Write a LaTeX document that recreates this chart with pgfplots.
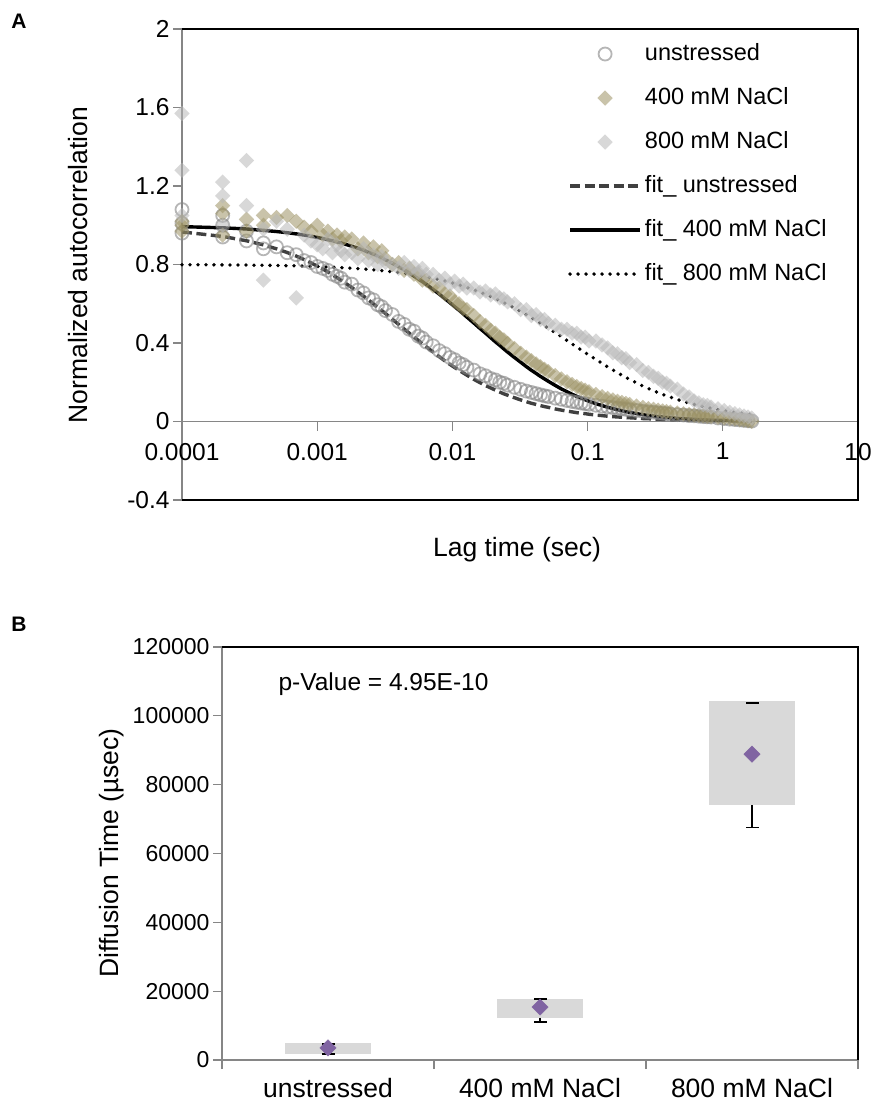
\documentclass[border=0pt]{standalone}
\usepackage{fontspec}
\setmainfont{Liberation Sans}
\usepackage{pgfplots}
\usepackage{pgfplotstable}
\pgfplotsset{compat=1.18}
\definecolor{axisgray}{HTML}{868686}
\definecolor{circgray}{HTML}{868686}
\definecolor{olivec}{HTML}{9C9264}
\definecolor{lgray}{HTML}{B8B8B8}
\definecolor{dashgray}{HTML}{404040}
\definecolor{boxgray}{HTML}{D9D9D9}
\definecolor{purp}{HTML}{8064A2}
\newcommand{\tickfont}{\fontsize{24.5}{28}\selectfont}
\newcommand{\btickfont}{\fontsize{23}{27}\selectfont}
\newcommand{\labfont}{\fontsize{26.5}{30}\selectfont}
\newcommand{\legfont}{\fontsize{23.5}{27}\selectfont}
\pgfplotsset{
  lineleg/.style={legend image code/.code={\draw[##1] (0pt,0pt) -- (70pt,0pt);}},
  markleg/.style={legend image code/.code={\draw[mark repeat=2,mark phase=2,##1] plot coordinates {(0pt,0pt)(35pt,0pt)(70pt,0pt)};}},
}

\pgfplotstableread{
t g0 g4 g8 f0 f4 f8
0.0001 1.08 1.02 1.05 0.966 0.993 0.799
0.0002 1.00 1.06 1.15 0.943 0.987 0.798
0.0003 0.97 1.03 1.33 0.921 0.981 0.797
0.0004 0.91 1.00 0.72 0.900 0.974 0.796
0.0005 0.89 1.04 1.02 0.880 0.968 0.795
0.0006 0.86 1.05 0.98 0.861 0.962 0.794
0.0007 0.85 1.02 0.63 0.843 0.956 0.793
0.0008 0.82 0.99 0.95 0.825 0.950 0.792
0.0009 0.81 0.97 0.92 0.808 0.944 0.791
0.0010 0.79 1.00 0.90 0.792 0.938 0.790
0.0011 0.78 0.95 0.88 0.777 0.932 0.788
0.0012 0.77 0.97 0.93 0.762 0.926 0.787
0.0013 0.75 0.93 0.86 0.747 0.921 0.786
0.0014 0.74 0.95 0.90 0.733 0.915 0.785
0.0015 0.73 0.92 0.87 0.720 0.910 0.784
0.0016 0.71 0.94 0.85 0.707 0.904 0.783
0.0018 0.70 0.93 0.86 0.683 0.893 0.781
0.0020 0.67 0.88 0.83 0.660 0.883 0.779
0.0022 0.655 0.91 0.88 0.639 0.873 0.777
0.0024 0.63 0.86 0.82 0.619 0.862 0.775
0.0026 0.62 0.89 0.85 0.600 0.853 0.773
0.0028 0.595 0.84 0.80 0.582 0.843 0.771
0.0030 0.585 0.87 0.84 0.566 0.834 0.769
0.0032 0.565 0.83 0.81 0.550 0.824 0.767
0.0036 0.545 0.80 0.80 0.521 0.806 0.763
0.0040 0.51 0.81 0.78 0.495 0.789 0.760
0.0044 0.495 0.77 0.81 0.471 0.773 0.756
0.0048 0.47 0.78 0.77 0.450 0.757 0.752
0.0052 0.46 0.75 0.79 0.430 0.741 0.748
0.0056 0.435 0.75 0.76 0.413 0.727 0.744
0.0060 0.425 0.72 0.78 0.396 0.713 0.741
0.0064 0.405 0.72 0.75 0.381 0.699 0.737
0.0072 0.386 0.69 0.75 0.354 0.673 0.730
0.0080 0.361 0.68 0.72 0.330 0.649 0.723
0.0088 0.346 0.65 0.73 0.309 0.626 0.716
0.0096 0.326 0.64 0.70 0.291 0.605 0.709
0.0104 0.315 0.61 0.715 0.275 0.585 0.703
0.0112 0.298 0.60 0.69 0.261 0.567 0.696
0.0120 0.290 0.575 0.70 0.248 0.549 0.690
0.0128 0.276 0.57 0.68 0.236 0.532 0.683
0.0144 0.262 0.54 0.68 0.215 0.502 0.671
0.0160 0.243 0.51 0.66 0.198 0.474 0.659
0.0176 0.233 0.49 0.665 0.183 0.450 0.648
0.0192 0.219 0.465 0.645 0.171 0.427 0.637
0.0208 0.212 0.45 0.65 0.160 0.406 0.626
0.0224 0.200 0.428 0.63 0.150 0.388 0.616
0.0240 0.195 0.416 0.625 0.141 0.370 0.606
0.0256 0.185 0.398 0.61 0.134 0.354 0.596
0.0288 0.174 0.372 0.60 0.121 0.326 0.578
0.0320 0.164 0.348 0.57 0.110 0.302 0.561
0.0352 0.155 0.328 0.57 0.101 0.280 0.545
0.0384 0.148 0.310 0.54 0.093 0.261 0.529
0.0416 0.142 0.294 0.545 0.087 0.245 0.515
0.0448 0.136 0.279 0.52 0.081 0.230 0.501
0.0480 0.131 0.266 0.52 0.076 0.217 0.488
0.0512 0.127 0.255 0.50 0.072 0.205 0.475
0.0576 0.119 0.234 0.49 0.064 0.184 0.453
0.0640 0.113 0.217 0.47 0.058 0.166 0.432
0.0704 0.107 0.202 0.47 0.053 0.152 0.413
0.0768 0.102 0.189 0.45 0.049 0.139 0.395
0.0832 0.098 0.178 0.45 0.045 0.128 0.379
0.0896 0.094 0.168 0.43 0.042 0.119 0.365
0.0960 0.091 0.160 0.43 0.040 0.111 0.351
0.1024 0.088 0.152 0.41 0.037 0.103 0.338
0.1152 0.083 0.138 0.41 0.033 0.091 0.316
0.1280 0.078 0.127 0.39 0.030 0.081 0.296
0.1408 0.074 0.118 0.375 0.027 0.073 0.278
0.1536 0.071 0.110 0.35 0.025 0.066 0.263
0.1664 0.068 0.103 0.345 0.023 0.060 0.249
0.1792 0.065 0.097 0.325 0.022 0.055 0.236
0.1920 0.062 0.092 0.32 0.020 0.050 0.225
0.2048 0.060 0.087 0.30 0.019 0.047 0.214
0.2304 0.056 0.079 0.29 0.017 0.040 0.197
0.2560 0.052 0.072 0.26 0.015 0.035 0.181
0.2816 0.049 0.066 0.25 0.014 0.031 0.168
0.3072 0.047 0.062 0.23 0.013 0.028 0.157
0.3328 0.044 0.058 0.22 0.012 0.025 0.147
0.3584 0.042 0.054 0.20 0.011 0.023 0.138
0.3840 0.040 0.051 0.195 0.010 0.021 0.131
0.4096 0.038 0.048 0.18 0.010 0.019 0.124
0.4608 0.035 0.043 0.165 0.009 0.016 0.112
0.5120 0.033 0.039 0.14 0.008 0.014 0.102
0.5632 0.030 0.036 0.125 0.007 0.013 0.094
0.6144 0.029 0.033 0.105 0.006 0.011 0.087
0.6656 0.027 0.031 0.095 0.006 0.010 0.081
0.7168 0.025 0.029 0.085 0.006 0.009 0.076
0.7680 0.024 0.027 0.082 0.005 0.008 0.071
0.8192 0.023 0.026 0.074 0.005 0.007 0.067
0.9216 0.018 0.022 0.065 0.004 0.006 0.060
1.0240 0.015 0.019 0.056 0.004 0.005 0.055
1.1264 0.012 0.016 0.047 0.004 0.005 0.050
1.2288 0.010 0.013 0.040 0.003 0.004 0.046
1.3312 0.008 0.010 0.034 0.003 0.004 0.043
1.4336 0.006 0.007 0.028 0.003 0.003 0.040
1.5360 0.004 0.004 0.023 0.003 0.003 0.037
1.6384 0.002 0.001 0.018 0.002 0.003 0.035
}\fcsdata

\pgfplotstableread{
t u a b
0.0001 1.01 0.97 1.57
0.0001 0.96 1.00 1.28
0.0002 1.05 0.95 1.22
0.0002 0.94 1.10 1.00
0.0003 0.92 0.97 1.10
0.0004 0.88 1.05 0.98
}\early

\begin{document}
\begin{tikzpicture}[x=1pt,y=1pt]
\useasboundingbox (0,0) rectangle (873,-1105);
\node[font=\fontsize{21}{24}\selectfont\bfseries] at (19,-21) {A};
\node[font=\fontsize{21}{24}\selectfont\bfseries] at (19,-624) {B};

\begin{axis}[
  at={(182pt,-500pt)}, anchor=south west, scale only axis,
  width=676pt, height=471pt,
  xmode=log, xmin=1e-4, xmax=10, ymin=-0.4, ymax=2,
  axis x line*=middle, axis y line*=left,
  hide obscured x ticks=false, hide obscured y ticks=false,
  axis line style={axisgray, line width=1.3pt},
  xtick={0.0001,0.001,0.01,0.1,1,10},
  xticklabels={0.0001,0.001,0.01,0.1,1,10},
  ytick={-0.4,0,0.4,0.8,1.2,1.6,2},
  yticklabels={-0.4,0,0.4,0.8,1.2,1.6,2},
  xminorticks=false, yminorticks=false,
  tick align=outside, major tick length=9pt,
  tick style={axisgray, line width=1.3pt},
  tick label style={font=\tickfont, black},
  xticklabel style={yshift=-9pt},
  clip=false,
  legend cell align=left,
  legend style={at={(0.571,0.977)}, anchor=north west, draw=none, fill=none,
    font=\legfont, row sep=16pt, inner sep=0pt,
    nodes={inner sep=3pt, text height=17pt, text depth=5pt}},
]
\addplot[only marks, color=circgray, mark=o, mark size=6.5pt,
  mark options={draw=circgray, line width=1.8pt, draw opacity=0.6}, markleg]
  table[x=t, y=g0] {\fcsdata};
\addlegendentry{unstressed}
\addplot[only marks, color=circgray, mark=o, mark size=6.5pt, forget plot,
  mark options={draw=circgray, line width=1.8pt, draw opacity=0.6}]
  table[x=t, y=u] {\early};
\addplot[only marks, color=olivec, mark=square*, mark size=5.4pt,
  mark options={rotate=45, fill=olivec, draw opacity=0, fill opacity=0.55}, markleg]
  table[x=t, y=g4] {\fcsdata};
\addlegendentry{400 mM NaCl}
\addplot[only marks, color=olivec, mark=square*, mark size=5.4pt, forget plot,
  mark options={rotate=45, fill=olivec, draw opacity=0, fill opacity=0.55}]
  table[x=t, y=a] {\early};
\addplot[only marks, color=lgray, mark=square*, mark size=5.4pt,
  mark options={rotate=45, fill=lgray, draw opacity=0, fill opacity=0.55}, markleg]
  table[x=t, y=g8] {\fcsdata};
\addlegendentry{800 mM NaCl}
\addplot[only marks, color=lgray, mark=square*, mark size=5.4pt, forget plot,
  mark options={rotate=45, fill=lgray, draw opacity=0, fill opacity=0.55}]
  table[x=t, y=b] {\early};
\addplot[dashgray, line width=3.4pt, dash pattern=on 10pt off 4.5pt, lineleg]
  table[x=t, y=f0] {\fcsdata};
\addlegendentry{fit\_ unstressed}
\addplot[black, line width=3.4pt, lineleg]
  table[x=t, y=f4] {\fcsdata};
\addlegendentry{fit\_ 400 mM NaCl}
\addplot[black, line width=3.8pt, dash pattern=on 0pt off 8pt, line cap=round, lineleg]
  table[x=t, y=f8] {\fcsdata};
\addlegendentry{fit\_ 800 mM NaCl}
\draw[black, line width=1.5pt] (rel axis cs:0,1) -- (rel axis cs:1,1) -- (rel axis cs:1,0) -- (rel axis cs:0,0);
\end{axis}
\node[font=\labfont, rotate=90] at (78,-265) {Normalized autocorrelation};
\node[font=\labfont] at (517,-550) {Lag time (sec)};

\begin{axis}[
  at={(222pt,-1060pt)}, anchor=south west, scale only axis,
  width=636pt, height=413pt,
  xmin=0.5, xmax=3.5, ymin=0, ymax=120000,
  axis x line*=bottom, axis y line*=left,
  axis line style={axisgray, line width=1.3pt},
  xtick={0.5,1.5,2.5,3.5}, xticklabels={,,,},
  extra x ticks={1,2,3},
  extra x tick labels={unstressed,400 mM NaCl,800 mM NaCl},
  extra x tick style={grid=none, tick style={draw=none},
    tick label style={font=\labfont, black, yshift=-6pt}},
  ytick={0,20000,40000,60000,80000,100000,120000},
  yticklabels={0,20000,40000,60000,80000,100000,120000},
  scaled y ticks=false,
  tick align=outside, major tick length=9pt,
  tick style={axisgray, line width=1.3pt},
  tick label style={font=\btickfont, black},
  clip=false,
]
\addplot[fill=boxgray, draw=none] coordinates {(0.795,1750) (1.205,1750) (1.205,4950) (0.795,4950)} -- cycle;
\addplot[fill=boxgray, draw=none] coordinates {(1.795,12210) (2.205,12210) (2.205,17730) (1.795,17730)} -- cycle;
\addplot[fill=boxgray, draw=none] coordinates {(2.795,73990) (3.205,73990) (3.205,104280) (2.795,104280)} -- cycle;
\addplot[black, line width=1.8pt] coordinates {(2,12210) (2,11050)};
\addplot[black, line width=1.8pt] coordinates {(3,73990) (3,67580)};
\addplot[only marks, mark=-, mark size=6.5pt, mark options={draw=black, line width=1.8pt}]
  coordinates {(1,4660) (2,17700) (3,103700) (1,1750) (2,11050) (3,67580)};
\addplot[only marks, mark=square*, mark size=5.8pt, mark options={rotate=45, fill=purp, draw=purp}]
  coordinates {(1,3500) (2,15400) (3,88850)};
\draw[black, line width=1.5pt] (rel axis cs:0,1) -- (rel axis cs:1,1) -- (rel axis cs:1,0);
\node[font=\tickfont, anchor=base west] at (axis cs:0.75,107300) {p-Value = 4.95E-10};
\end{axis}
\node[font=\labfont, rotate=90] at (112,-853) {Diffusion Time (µsec)};
\end{tikzpicture}
\end{document}
